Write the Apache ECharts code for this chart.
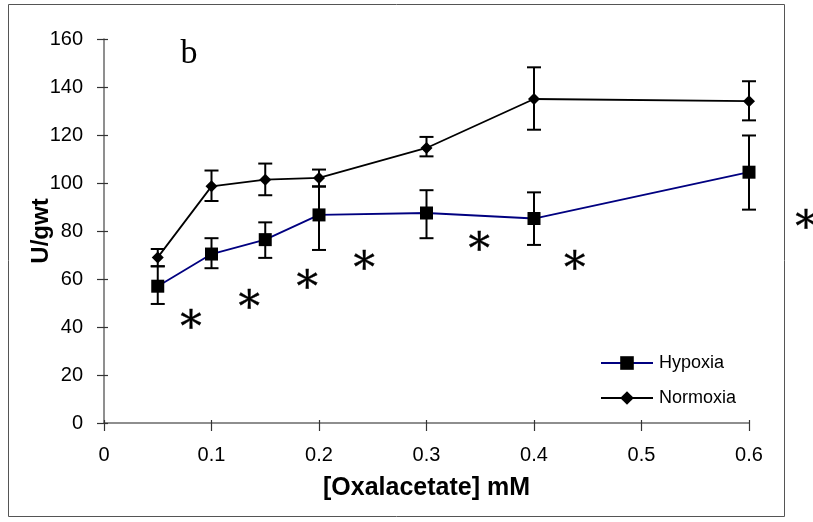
<!DOCTYPE html>
<html>
<head>
<meta charset="utf-8">
<script src="https://cdn.jsdelivr.net/npm/echarts@6/dist/echarts.min.js"></script>
<style>
  html, body { margin: 0; padding: 0; background: #fff; }
  #chart { width: 813px; height: 522px; }
</style>
</head>
<body>
<div id="chart"></div>
<script>
// Oxalacetate concentrations (mM)
const concentrations = [0.05, 0.1, 0.15, 0.2, 0.3, 0.4, 0.6];

// Hypoxia activity (U/gwt) with error bar ends
const hypoxiaMean = [57.0, 70.4, 76.4, 86.7, 87.5, 85.2, 104.5];
const hypoxiaHigh = [65.3, 77.0, 83.6, 98.5, 97.0, 96.1, 119.8];
const hypoxiaLow  = [49.6, 64.5, 68.8, 72.1, 77.0, 74.2, 88.9];

// Normoxia activity (U/gwt) with error bar ends
const normoxiaMean = [69.0, 98.6, 101.4, 102.1, 114.6, 135.0, 134.1];
const normoxiaHigh = [72.5, 105.2, 108.1, 105.6, 119.2, 148.2, 142.4];
const normoxiaLow  = [65.3, 92.5, 94.9, 98.6, 111.1, 122.2, 126.1];

// Significance markers (x, y)
const starX = [0.081, 0.135, 0.189, 0.242, 0.349, 0.438, 0.653];
const starY = [43.1, 51.4, 59.75, 67.4, 75.3, 67.4, 84.5];

const xTicks = [0, 0.1, 0.2, 0.3, 0.4, 0.5, 0.6];
const yTicks = [0, 20, 40, 60, 80, 100, 120, 140, 160];

const pairs = (xs, ys) => xs.map((x, i) => [x, ys[i]]);
const bars = (xs, lo, hi) => xs.map((x, i) => [x, lo[i], hi[i]]);

function errorBarItem(params, api) {
  const x = api.value(0);
  const lo = api.coord([x, api.value(1)]);
  const hi = api.coord([x, api.value(2)]);
  const half = 7;
  const style = { stroke: '#000', lineWidth: 2 };
  return {
    type: 'group',
    children: [
      { type: 'line', shape: { x1: lo[0], y1: lo[1], x2: hi[0], y2: hi[1] }, style },
      { type: 'line', shape: { x1: hi[0] - half, y1: hi[1], x2: hi[0] + half, y2: hi[1] }, style },
      { type: 'line', shape: { x1: lo[0] - half, y1: lo[1], x2: lo[0] + half, y2: lo[1] }, style }
    ]
  };
}

const starSize = 43;
function starItem(params, api) {
  const p = api.coord([api.value(0), api.value(1)]);
  return {
    type: 'text',
    x: p[0],
    y: p[1] + starSize * 0.23,
    style: {
      text: '*',
      font: starSize + 'px "DejaVu Serif"',
      fill: '#000',
      stroke: '#000',
      lineWidth: 0.3,
      align: 'center',
      verticalAlign: 'middle'
    }
  };
}

const axisColor = '#6a6a6a';
const tickFont = { fontFamily: 'Liberation Sans', fontSize: 20, color: '#000' };

const chart = echarts.init(document.getElementById('chart'), null, { renderer: 'canvas' });
chart.setOption({
  animation: false,
  backgroundColor: '#fff',
  grid: { left: 104, right: 64, top: 39, bottom: 99, containLabel: false, outerBoundsMode: 'none' },
  xAxis: [{
    type: 'value', min: 0, max: 0.6, interval: 0.1,
    name: '[Oxalacetate] mM', nameLocation: 'middle', nameGap: 53, nameMoveOverlap: false,
    nameTextStyle: { fontFamily: 'Liberation Sans', fontWeight: 'bold', fontSize: 25, color: '#000' },
    axisLine: { lineStyle: { color: axisColor, width: 1.5 } },
    axisTick: { show: true, inside: false, length: 8, lineStyle: { color: '#333', width: 1.2 } },
    axisLabel: Object.assign({ margin: 22, formatter: v => xTicks.includes(+v.toFixed(1)) ? String(+v.toFixed(1)) : '' }, tickFont),
    splitLine: { show: false }
  }, {
    type: 'value', min: 0, max: 0.6, interval: 0.1, position: 'bottom',
    axisLine: { show: false },
    axisTick: { show: true, inside: true, length: 3, lineStyle: { color: '#333', width: 1.2 } },
    axisLabel: { show: false }, splitLine: { show: false }
  }],
  yAxis: [{
    type: 'value', min: 0, max: 160, interval: 20,
    name: 'U/gwt', nameLocation: 'middle', nameGap: 51, nameMoveOverlap: false,
    nameTextStyle: { fontFamily: 'Liberation Sans', fontWeight: 'bold', fontSize: 24, color: '#000' },
    axisLine: { show: true, lineStyle: { color: axisColor, width: 1.5 } },
    axisTick: { show: true, inside: false, length: 7, lineStyle: { color: '#333', width: 1.2 } },
    axisLabel: Object.assign({ margin: 21, formatter: v => yTicks.includes(v) ? String(v) : '' }, tickFont),
    splitLine: { show: false }
  }, {
    type: 'value', min: 0, max: 160, interval: 20, position: 'left',
    axisLine: { show: false },
    axisTick: { show: true, inside: true, length: 4, lineStyle: { color: '#333', width: 1.2 } },
    axisLabel: { show: false }, splitLine: { show: false }
  }],
  legend: {
    data: ['Hypoxia', 'Normoxia'],
    orient: 'vertical', left: 600, top: 354, padding: 0,
    itemWidth: 52, itemHeight: 17, itemGap: 17,
    textStyle: { fontFamily: 'Liberation Sans', fontSize: 18, color: '#000', padding: [0, 0, 0, 1] }
  },
  graphic: [
    { type: 'rect', shape: { x: 8.5, y: 4.5, width: 776, height: 512 },
      style: { fill: 'none', stroke: '#555', lineWidth: 1 }, silent: true, z: -10 },
    { type: 'text', x: 189, y: 54,
      style: { text: 'b', font: '34px "Liberation Serif"', fill: '#000', align: 'center', verticalAlign: 'middle' } }
  ],
  series: [
    {
      name: 'Hypoxia', type: 'line', data: pairs(concentrations, hypoxiaMean),
      symbol: 'rect', symbolSize: 13,
      lineStyle: { color: '#000080', width: 1.8 },
      itemStyle: { color: '#000' }, z: 4
    },
    {
      name: 'Normoxia', type: 'line', data: pairs(concentrations, normoxiaMean),
      symbol: 'diamond', symbolSize: 12,
      lineStyle: { color: '#000', width: 1.8 },
      itemStyle: { color: '#000' }, z: 4
    },
    { name: 'Hypoxia SE', type: 'custom', data: bars(concentrations, hypoxiaLow, hypoxiaHigh),
      renderItem: errorBarItem, z: 3, silent: true },
    { name: 'Normoxia SE', type: 'custom', data: bars(concentrations, normoxiaLow, normoxiaHigh),
      renderItem: errorBarItem, z: 3, silent: true },
    { name: 'Significance', type: 'custom', data: pairs(starX, starY),
      renderItem: starItem, clip: false, z: 5, silent: true }
  ]
});
</script>
</body>
</html>
